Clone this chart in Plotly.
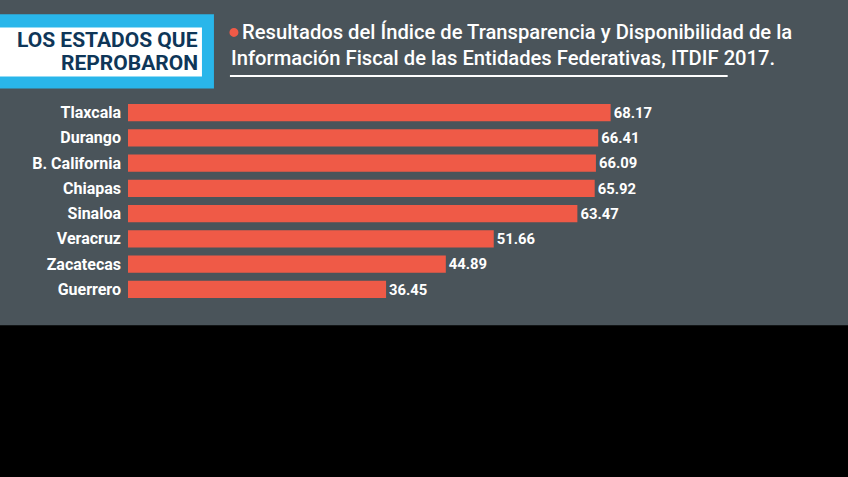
import plotly.graph_objects as go

estados = ["Tlaxcala", "Durango", "B. California", "Chiapas", "Sinaloa",
           "Veracruz", "Zacatecas", "Guerrero"]
valores = [68.17, 66.41, 66.09, 65.92, 63.47, 51.66, 44.89, 36.45]
etiquetas = ["68.17", "66.41", "66.09", "65.92", "63.47", "51.66", "44.89", "36.45"]

W, H = 848, 477
L, R, T = 128, 11.6, 100.4
PW = W - L - R
PH = 201.4
B = H - T - PH

GRAY = "#4a545a"
RED = "#ef5a47"
CYAN = "#29b6ea"
NAVY = "#0e3658"


def px(x):
    return (x - L) / PW


def py(y):
    return (T + PH - y) / PH


fig = go.Figure(go.Bar(
    x=valores, y=estados, orientation="h",
    marker=dict(color=RED, line=dict(width=0)),
    width=0.69,
    text=etiquetas, textposition="outside",
    textfont=dict(family="Roboto", size=17, color="white", weight="bold"),
    cliponaxis=False, hoverinfo="skip",
))

shapes = [
    dict(type="rect", xref="paper", yref="paper", x0=px(-10), x1=px(W + 10),
         y0=py(325), y1=py(H + 10), fillcolor="black", line=dict(width=0), layer="below"),
    dict(type="rect", xref="paper", yref="paper", x0=px(-5), x1=px(214),
         y0=py(15), y1=py(89), fillcolor=CYAN, line=dict(width=0)),
    dict(type="rect", xref="paper", yref="paper", x0=px(-5), x1=px(202),
         y0=py(28), y1=py(77), fillcolor="white", line=dict(width=0)),
    dict(type="circle", xref="paper", yref="paper", x0=px(229.5), x1=px(238.5),
         y0=py(28.5), y1=py(37.5), fillcolor=RED, line=dict(width=0)),
    dict(type="line", xref="paper", yref="paper", x0=px(230), x1=px(728),
         y0=py(76.5), y1=py(76.5), line=dict(color="white", width=2)),
]

annotations = [
    dict(text="LOS ESTADOS QUE", x=px(200), y=py(41), xref="paper", yref="paper",
         xanchor="right", yanchor="middle", showarrow=False,
         font=dict(family="Roboto", size=21, color=NAVY, weight="bold")),
    dict(text="REPROBARON", x=px(200), y=py(64), xref="paper", yref="paper",
         xanchor="right", yanchor="middle", showarrow=False,
         font=dict(family="Roboto", size=21, color=NAVY, weight="bold")),
    dict(text="Resultados del Índice de Transparencia y Disponibilidad de la",
         x=px(240), y=py(33), xref="paper", yref="paper",
         xanchor="left", yanchor="middle", showarrow=False,
         font=dict(family="Roboto", size=20.2, color="white", weight=500)),
    dict(text="Información Fiscal de las Entidades Federativas, ITDIF 2017.",
         x=px(229), y=py(59), xref="paper", yref="paper",
         xanchor="left", yanchor="middle", showarrow=False,
         font=dict(family="Roboto", size=20.2, color="white", weight=500)),
]

fig.update_layout(
    width=W, height=H,
    margin=dict(l=L, r=R, t=T, b=B, pad=0),
    paper_bgcolor=GRAY, plot_bgcolor=GRAY,
    showlegend=False,
    shapes=shapes, annotations=annotations,
    xaxis=dict(range=[0, 100], visible=False, fixedrange=True),
    yaxis=dict(categoryorder="array", categoryarray=estados,
               range=[7.5, -0.5], showgrid=False, zeroline=False,
               showline=False, ticks="", ticklabelstandoff=6,
               tickfont=dict(family="Roboto", size=16, color="white", weight="bold"),
               fixedrange=True),
    hovermode=False,
)

fig.write_html("out.html", config={"displayModeBar": False},
               post_script="document.body.style.margin='0px';document.body.style.overflow='hidden';")
